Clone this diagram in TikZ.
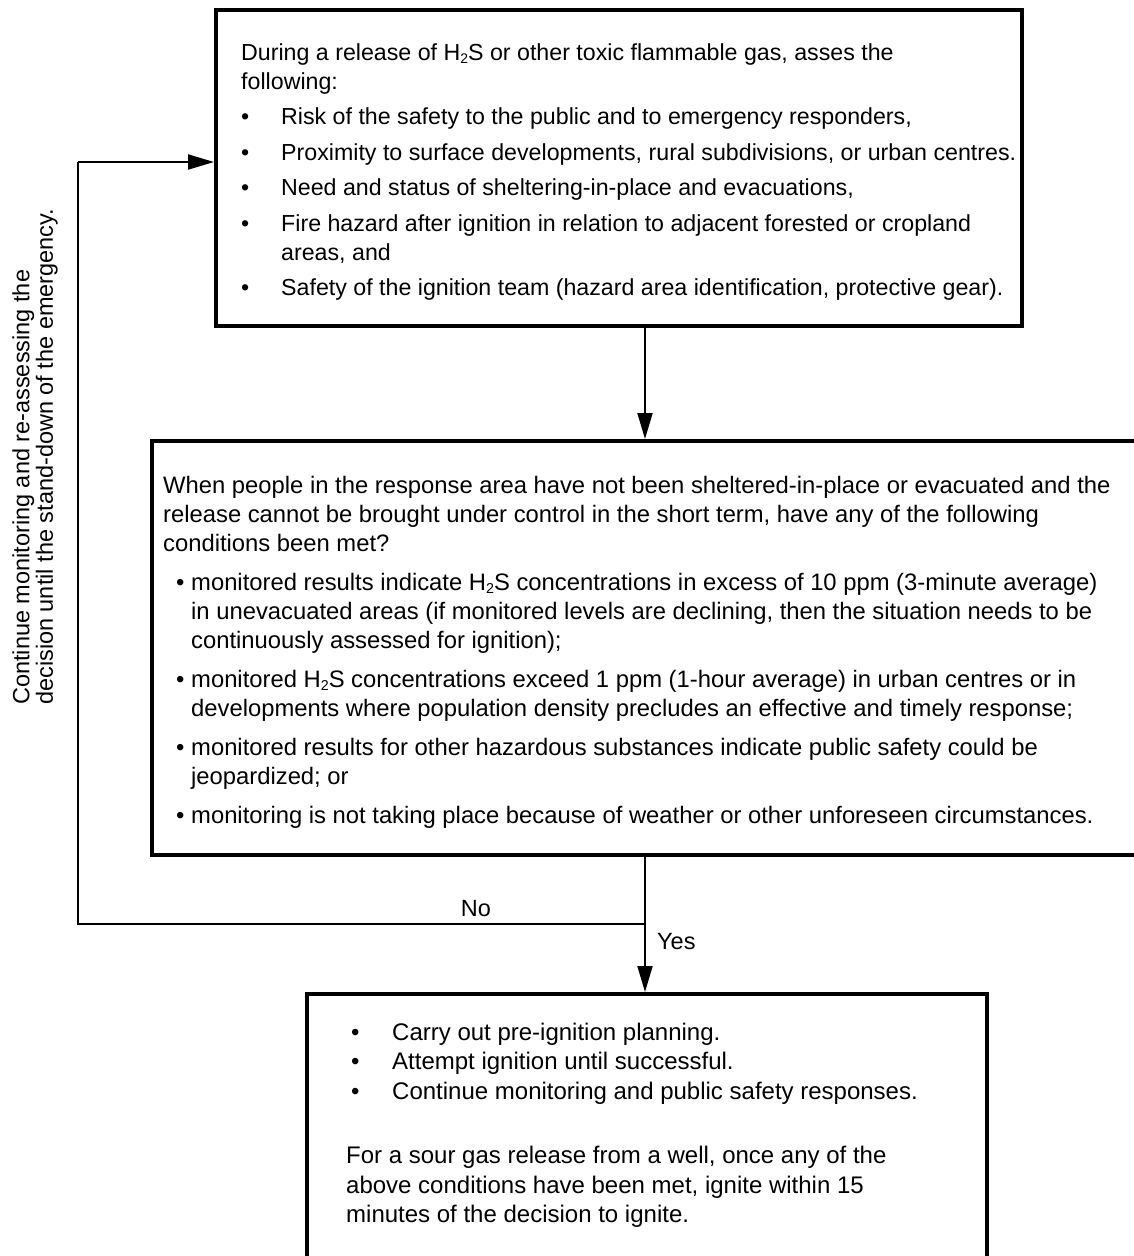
\documentclass[tikz,border=0pt]{standalone}
\usepackage{fontspec}
\setmainfont{Liberation Sans}
\usetikzlibrary{arrows.meta}
\newcommand{\hts}{H\raisebox{-0.25ex}{\scalebox{0.6}{2}}S}
\newcommand{\bl}[1]{\makebox[40pt][l]{\textbullet}#1}
\newcommand{\ind}{\hspace*{40pt}}
\newcommand{\bb}{\makebox[28pt][l]{\hspace*{13pt}\textbullet}}
\newcommand{\ii}{\hspace*{28pt}}
\newcommand{\cc}{\makebox[46pt][l]{\hspace*{5pt}\textbullet}}
\newcommand{\fs}{\rule{0pt}{18pt}}
\begin{document}
\begin{tikzpicture}[x=1pt,y=1pt,
  box/.style={draw,line width=3.5pt,inner sep=0pt,anchor=north west},
  conn/.style={line width=2pt},
  arr/.style={line width=2pt,-{Triangle[length=26pt,width=15pt]}},
  txt/.style={inner sep=0pt,anchor=north west,align=left},
  lbl/.style={inner sep=0pt,font=\fontsize{23.5}{23.5}\selectfont}]
\useasboundingbox (0,0) rectangle (1133,-1256);
% boxes
\node[box,minimum width=806pt,minimum height=316pt] (b1) at (214,-8) {};
\node[box,minimum width=1000pt,minimum height=414pt] (b2) at (150,-439) {};
\node[box,minimum width=680pt,minimum height=300pt] (b3) at (305,-992) {};
% texts
\node[txt,font=\fontsize{23.2}{29}\selectfont] (t1) at (241,-42) {\fs During a release of \hts{} or other toxic flammable gas, asses the\\
following:\\[6.5pt]
\bl{Risk of the safety to the public and to emergency responders,}\\[6.5pt]
\bl{Proximity to surface developments, rural subdivisions, or urban centres.}\\[6.5pt]
\bl{Need and status of sheltering-in-place and evacuations,}\\[6.5pt]
\bl{Fire hazard after ignition in relation to adjacent forested or cropland}\\
\ind areas, and\\[6.5pt]
\bl{Safety of the ignition team (hazard area identification, protective gear).}};
\node[txt,font=\fontsize{23.8}{29}\selectfont] (t2) at (163,-475) {\fs When people in the response area have not been sheltered-in-place or evacuated and the\\
release cannot be brought under control in the short term, have any of the following\\
conditions been met?\\[10pt]
\bb monitored results indicate \hts{} concentrations in excess of 10 ppm (3-minute average)\\
\ii in unevacuated areas (if monitored levels are declining, then the situation needs to be\\
\ii continuously assessed for ignition);\\[10pt]
\bb monitored \hts{} concentrations exceed 1 ppm (1-hour average) in urban centres or in\\
\ii developments where population density precludes an effective and timely response;\\[10pt]
\bb monitored results for other hazardous substances indicate public safety could be\\
\ii jeopardized; or\\[10pt]
\bb monitoring is not taking place because of weather or other unforeseen circumstances.};
\node[txt,font=\fontsize{24}{29.5}\selectfont] (t3) at (346,-1022) {\fs\cc Carry out pre-ignition planning.\\
\cc Attempt ignition until successful.\\
\cc Continue monitoring and public safety responses.\\[35pt]
For a sour gas release from a well, once any of the\\
above conditions have been met, ignite within 15\\
minutes of the decision to ignite.};
% side label
\node[lbl,rotate=90,anchor=south west,align=left] (side) at (58,-705) {Continue monitoring and re-assessing the\\decision until the stand-down of the emergency.};
% connectors
\coordinate (ax) at (645,0);
\coordinate (j) at (645,-924);
\coordinate (cl) at (78,-924);
\coordinate (ct) at (78,-162);
\draw[arr] (b1.south -| ax) -- (b2.north -| ax);
\draw[arr] (b2.south -| ax) -- (b3.north -| ax);
\draw[conn] (j) -- (cl) -- (ct);
\draw[arr] (ct) -- (ct -| b1.west);
\node[lbl,anchor=south] (no) at (476,-917) {No};
\node[lbl,anchor=west] (yes) at (657,-942) {Yes};
\end{tikzpicture}
\end{document}
